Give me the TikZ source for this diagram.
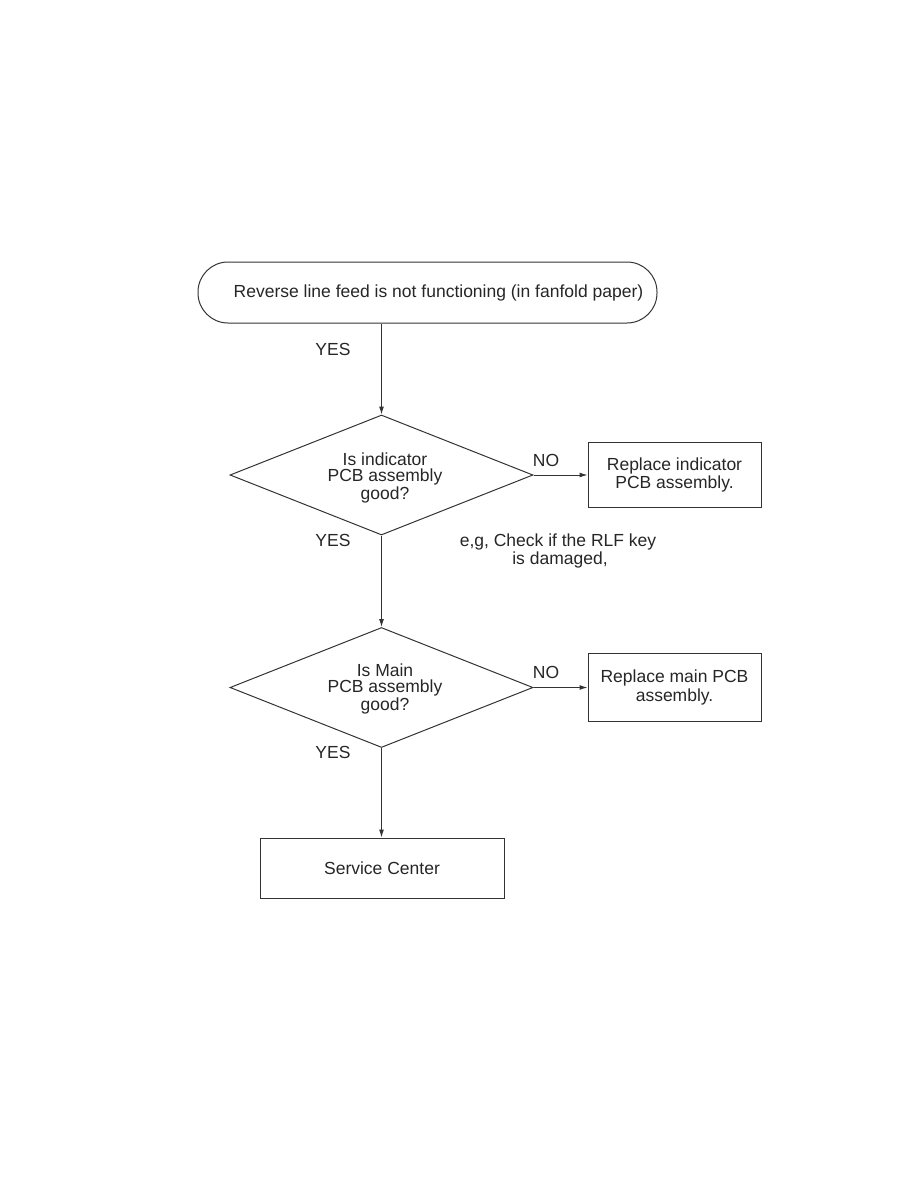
\documentclass[tikz,border=0pt]{standalone}
\usepackage{fontspec}
\setmainfont{Liberation Sans}
\usetikzlibrary{shapes.geometric,arrows.meta}
\begin{document}
\begin{tikzpicture}[x=1pt,y=-1pt,
  txt/.style={font=\fontsize{17.5}{16}\selectfont, text=black!85},
  lbl/.style={txt, inner sep=0pt},
  line/.style={draw=black!80, line width=1pt},
  arr/.style={line, -{Latex[length=8pt,width=5pt]}},
  term/.style={line, rounded corners=30pt, minimum width=459pt, minimum height=61pt, txt, align=center},
  decision/.style={line, diamond, aspect=2.53, minimum width=303pt, minimum height=120pt, inner sep=0pt, txt, align=center},
  boxnode/.style={line, rectangle, txt, align=center, inner sep=0pt}
]
\useasboundingbox (0,0) rectangle (918,1188);
\node[term] (start) at (427.5,292.5) {\hspace*{22pt}Reverse line feed is not functioning (in fanfold paper)};
\node[decision] (d1) at (381.5,475) {};
\node[txt, align=center] (d1t) at (385,478) {Is indicator\\PCB assembly\\good?};
\node[boxnode, minimum width=173pt, minimum height=65pt] (b1) at (674.5,475) {\raisebox{-3pt}{\shortstack{Replace indicator\\[-1pt]PCB assembly.}}};
\node[decision] (d2) at (381.5,687.5) {};
\node[txt, align=center] (d2t) at (385,689) {Is Main\\PCB assembly\\good?};
\node[boxnode, minimum width=173pt, minimum height=68pt] (b2) at (674.5,687.5) {\raisebox{-4pt}{\shortstack{Replace main PCB\\[-1pt]assembly.}}};
\node[boxnode, minimum width=244pt, minimum height=60pt] (b3) at (382,868) {Service Center};
\coordinate (s1) at (start.south -| d1.north);
\draw[arr] (s1) -- (d1.north);
\draw[arr] (d1.east) -- (b1.west);
\draw[arr] (d1.south) -- (d2.north);
\draw[arr] (d2.east) -- (b2.west);
\draw[arr] (d2.south) -- (b3.north -| d2.south);
\node[lbl] (y1) at (333,349) {YES};
\node[lbl] (n1) at (546,460) {NO};
\node[lbl] (y2) at (333,540) {YES};
\node[lbl, align=center] (note) at (558,551) {e,g, Check if the RLF key\\\hspace*{4pt}is damaged,};
\node[lbl] (n2) at (546,672) {NO};
\node[lbl] (y3) at (333,752) {YES};
\end{tikzpicture}
\end{document}
